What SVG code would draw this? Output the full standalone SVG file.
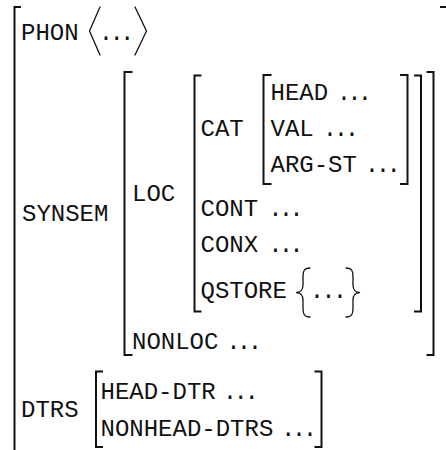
<svg xmlns="http://www.w3.org/2000/svg" width="446" height="450" viewBox="0 0 446 450">
<style>
.t{font-family:"Liberation Mono","DejaVu Sans Mono",monospace;font-size:24px;fill:#111}
.br{fill:none;stroke:#111;stroke-width:2;stroke-linejoin:miter;stroke-linecap:butt}
.dl{fill:none;stroke:#111;stroke-width:1.3;stroke-linejoin:round;stroke-linecap:round}
</style>
<rect width="446" height="450" fill="#fff"/>
<g id="brackets">
<path id="outer-l" class="br" d="M21 7H14.5V452"/>
<path id="outer-r" class="br" d="M440 7H447V452"/>
<path id="synsem-l" class="br" d="M132.5 72H124.5V355H132.5"/>
<path id="synsem-r" class="br" d="M426.5 72H433.5V355H426.5"/>
<path id="loc-l" class="br" d="M201.5 75.5H194.5V311.5H201.5"/>
<path id="loc-r" class="br" d="M414 75.5H421V311.5H414"/>
<path id="cat-l" class="br" d="M271.5 75H263.5V184H271.5"/>
<path id="cat-r" class="br" d="M400 75H407.5V184H400"/>
<path id="dtrs-l" class="br" d="M103 371.5H96V447H103"/>
<path id="dtrs-r" class="br" d="M314.5 371.5H321.5V447H314.5"/>
</g>
<g id="phon">
<text class="t" x="21" y="39.5">PHON</text>
<path class="dl" d="M100 7L89.5 31L100 55"/>
<text class="t" x="98.8 109.5 120.1" y="39.5">...</text>
<path class="dl" d="M135 7L146.5 31L135 55"/>
</g>
<g id="synsem">
<text class="t" x="22" y="221">SYNSEM</text>
</g>
<g id="loc">
<text class="t" x="132" y="201">LOC</text>
</g>
<g id="cat">
<text class="t" x="200.5" y="136">CAT</text>
</g>
<g id="head">
<text class="t" x="270.5" y="99.5">HEAD</text>
<text class="t" x="336.8 347.3 357.8" y="99.5">...</text>
</g>
<g id="val">
<text class="t" x="270.5" y="136">VAL</text>
<text class="t" x="322.8 333.8 344.8" y="136">...</text>
</g>
<g id="argst">
<text class="t" x="270.5" y="172">ARG-ST</text>
<text class="t" x="364.8 375.8 386.5" y="172">...</text>
</g>
<g id="cont">
<text class="t" x="200.5" y="216">CONT</text>
<text class="t" x="268.3 278.8 289.3" y="216">...</text>
</g>
<g id="conx">
<text class="t" x="200.5" y="252">CONX</text>
<text class="t" x="268.3 278.8 289.3" y="252">...</text>
</g>
<g id="qstore">
<text class="t" x="200.5" y="298">QSTORE</text>
<path class="dl" d="M310 268C304 268 303 271 303 277V285C303 290 300 292.5 296.5 292.5C300 292.5 303 295 303 300V308C303 314 304 317 310 317"/>
<text class="t" x="309.8 321.3 332.8" y="298">...</text>
<path class="dl" d="M346 268C352 268 353 271 353 277V285C353 290 356 292.5 359.5 292.5C356 292.5 353 295 353 300V308C353 314 352 317 346 317"/>
</g>
<g id="nonloc">
<text class="t" x="132" y="349">NONLOC</text>
<text class="t" x="226.3 236.8 247.8" y="349">...</text>
</g>
<g id="dtrs">
<text class="t" x="21" y="416.5">DTRS</text>
</g>
<g id="head-dtr">
<text class="t" x="100.5" y="398.5">HEAD-DTR</text>
<text class="t" x="222.8 233.5 244.5" y="398.5">...</text>
</g>
<g id="nonhead-dtrs">
<text class="t" x="100.5" y="435.5">NONHEAD-DTRS</text>
<text class="t" x="281.1 291.8 302.8" y="435.5">...</text>
</g>
</svg>
